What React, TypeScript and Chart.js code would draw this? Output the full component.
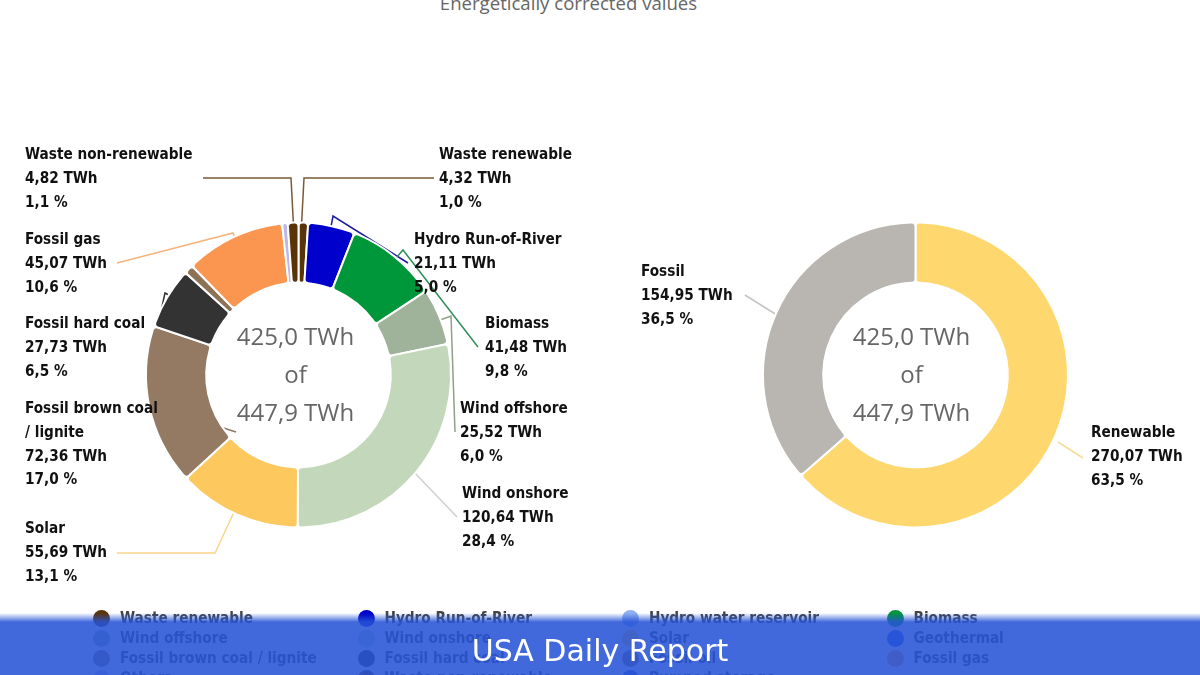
import { useEffect, useRef } from "react";
import { Chart, registerables } from "chart.js";

Chart.register(...registerables);

const sources = [
  "Waste renewable", "Hydro Run-of-River", "Hydro water reservoir", "Biomass",
  "Wind offshore", "Wind onshore", "Solar", "Geothermal",
  "Fossil brown coal / lignite", "Fossil hard coal", "Fossil oil", "Fossil gas",
  "Others", "Waste non-renewable", "Pumped storage",
];
const sourceTwh = [4.32, 21.11, 0, 41.48, 25.52, 120.64, 55.69, 0, 72.36, 27.73, 4.16, 45.07, 2.5, 4.82, 0];
const sourcePercent = [1.0, 5.0, 0, 9.8, 6.0, 28.4, 13.1, 0, 17.0, 6.5, 0, 10.6, 0, 1.1, 0];
const sourceColors = [
  "#5a3409", "#0000cc", "#8fb0f2", "#00963a",
  "#9fb39a", "#c3d8ba", "#fdc95f", "#2b50d8",
  "#947a62", "#333333", "#8c7355", "#fb9650",
  "#bdb8e6", "#5a3409", "#3a5ccc",
];

const groups = ["Renewable", "Fossil"];
const groupTwh = [270.07, 154.95];
const groupPercent = [63.5, 36.5];
const groupColors = ["#ffd76f", "#b9b6b2"];

const centerLines = ["425,0 TWh", "of", "447,9 TWh"];

// where the callouts sit, by category name
const sourceCallouts: Record<string, any> = {
  "Waste renewable": { x: 439, y: 155, color: "#7a5a35", path: [[434, 178], [304, 178], [301, 235]] },
  "Hydro Run-of-River": { x: 414, y: 240, color: "#1c1ca0", path: [[408, 263], [333, 216], [330, 232]] },
  Biomass: { x: 485, y: 324, color: "#2f8f5a", path: [[478, 347], [403, 250], [396, 258]] },
  "Wind offshore": { x: 460, y: 409, color: "#8f9f88", path: [[455, 432], [451, 316], [440, 320]] },
  "Wind onshore": { x: 462, y: 494, color: "#cfcfcf", path: [[457, 517], [412, 470]] },
  Solar: { x: 25, y: 529, color: "#f9d58c", path: [[117, 553], [215, 553], [235, 510]] },
  "Fossil brown coal / lignite": { x: 25, y: 409, lines: ["Fossil brown coal", "/ lignite"], color: "#8a7a66", path: [[160, 402], [148, 404], [236, 432]] },
  "Fossil hard coal": { x: 25, y: 324, color: "#333333", path: [[153, 348], [165, 293], [178, 300]] },
  "Fossil gas": { x: 25, y: 240, color: "#f5b47c", path: [[117, 263], [233, 233], [238, 245]] },
  "Waste non-renewable": { x: 25, y: 155, color: "#7a5a35", path: [[203, 178], [291, 178], [294, 235]] },
};
const groupCallouts: Record<string, any> = {
  Renewable: { x: 1091, y: 433, color: "#f5dc9a", path: [[1083, 458], [1058, 442]] },
  Fossil: { x: 641, y: 272, color: "#c4c4c4", path: [[745, 295], [780, 317]] },
};

const fmt = (n: number, digits: number) => n.toFixed(digits).replace(".", ",");

function calloutPlugin(callouts: Record<string, any>, percents: number[], centerX: number) {
  return {
    id: "callouts",
    beforeDatasetsDraw(chart: any) {
      const ctx = chart.ctx;
      ctx.save();
      ctx.lineWidth = 1.5;
      Object.values(callouts).forEach((c: any) => {
        ctx.strokeStyle = c.color;
        ctx.beginPath();
        c.path.forEach((p: number[], i: number) => (i ? ctx.lineTo(p[0], p[1]) : ctx.moveTo(p[0], p[1])));
        ctx.stroke();
      });
      ctx.restore();
    },
    afterDatasetsDraw(chart: any) {
      const ctx = chart.ctx;
      ctx.save();
      ctx.textBaseline = "middle";
      ctx.textAlign = "left";
      ctx.fillStyle = "#111111";
      ctx.font = "bold 15.2px 'DejaVu Sans Condensed', 'DejaVu Sans'";
      chart.data.labels.forEach((name: string, i: number) => {
        const c = callouts[name];
        if (!c) return;
        const rows = [
          ...(c.lines || [name]),
          `${fmt(chart.data.datasets[0].data[i], 2)} TWh`,
          `${fmt(percents[i], 1)} %`,
        ];
        rows.forEach((row: string, r: number) => ctx.fillText(row, c.x, c.y + 0.5 + r * 23.6));
      });
      ctx.fillStyle = "#666666";
      ctx.textAlign = "center";
      ctx.font = "24px 'Open Sans'";
      centerLines.forEach((line, i) => ctx.fillText(line, centerX, 338 + i * 38));
      ctx.restore();
    },
  };
}

function makeDoughnut(
  canvas: HTMLCanvasElement,
  labels: string[],
  data: number[],
  colors: string[],
  padding: any,
  plugin: any,
) {
  return new Chart(canvas, {
    type: "doughnut",
    data: {
      labels,
      datasets: [
        {
          data,
          backgroundColor: colors,
          borderColor: "#ffffff",
          borderWidth: 2,
          borderRadius: 4,
        },
      ],
    },
    options: {
      animation: false,
      responsive: false,
      devicePixelRatio: 1,
      cutout: "60.5%",
      layout: { padding },
      plugins: { legend: { display: false }, tooltip: { enabled: false } },
    },
    plugins: [plugin],
  } as any);
}

export default function App() {
  const leftRef = useRef<HTMLCanvasElement>(null);
  const rightRef = useRef<HTMLCanvasElement>(null);

  useEffect(() => {
    if (!leftRef.current || !rightRef.current) return;
    const left = makeDoughnut(
      leftRef.current, sources, sourceTwh, sourceColors,
      { left: 145, right: 748, top: 221, bottom: 146 },
      calloutPlugin(sourceCallouts, sourcePercent, 295.5),
    );
    const right = makeDoughnut(
      rightRef.current, groups, groupTwh, groupColors,
      { left: 762, right: 131, top: 221, bottom: 146 },
      calloutPlugin(groupCallouts, groupPercent, 911.5),
    );
    return () => {
      left.destroy();
      right.destroy();
    };
  }, []);

  const canvasStyle: any = { position: "absolute", left: 0, top: 0 };

  return (
    <div style={{ position: "absolute", left: 0, top: 0, width: 1200, height: 675, overflow: "hidden", background: "#fff" }}>
      <div style={{ position: "absolute", top: -10, left: 0, width: 1137, textAlign: "center", font: "18.6px 'Open Sans'", color: "#666" }}>
        Energetically corrected values
      </div>
      <canvas ref={leftRef} width={1200} height={675} style={canvasStyle} />
      <canvas ref={rightRef} width={1200} height={675} style={canvasStyle} />
      {sources.map((name, i) => (
        <div
          key={name}
          style={{
            position: "absolute",
            left: 93 + (i % 4) * 264.5,
            top: 608 + Math.floor(i / 4) * 20,
            display: "flex",
            alignItems: "center",
            height: 20,
            font: "bold 15.2px 'DejaVu Sans Condensed', 'DejaVu Sans'",
            color: "#444",
            whiteSpace: "nowrap",
          }}
        >
          <span style={{ width: 17, height: 17, borderRadius: 9, background: sourceColors[i], marginRight: 10 }} />
          {name}
        </div>
      ))}
      <div
        style={{
          position: "absolute",
          left: 0,
          top: 613,
          width: 1200,
          height: 62,
          background: "linear-gradient(rgba(39,84,215,0) 0px, rgba(39,84,215,0.88) 9px, rgba(39,84,215,0.88) 100%)",
          color: "#fff",
          font: "30px 'DejaVu Sans'",
          textAlign: "center",
          lineHeight: "76px",
        }}
      >
        USA Daily Report
      </div>
    </div>
  );
}
